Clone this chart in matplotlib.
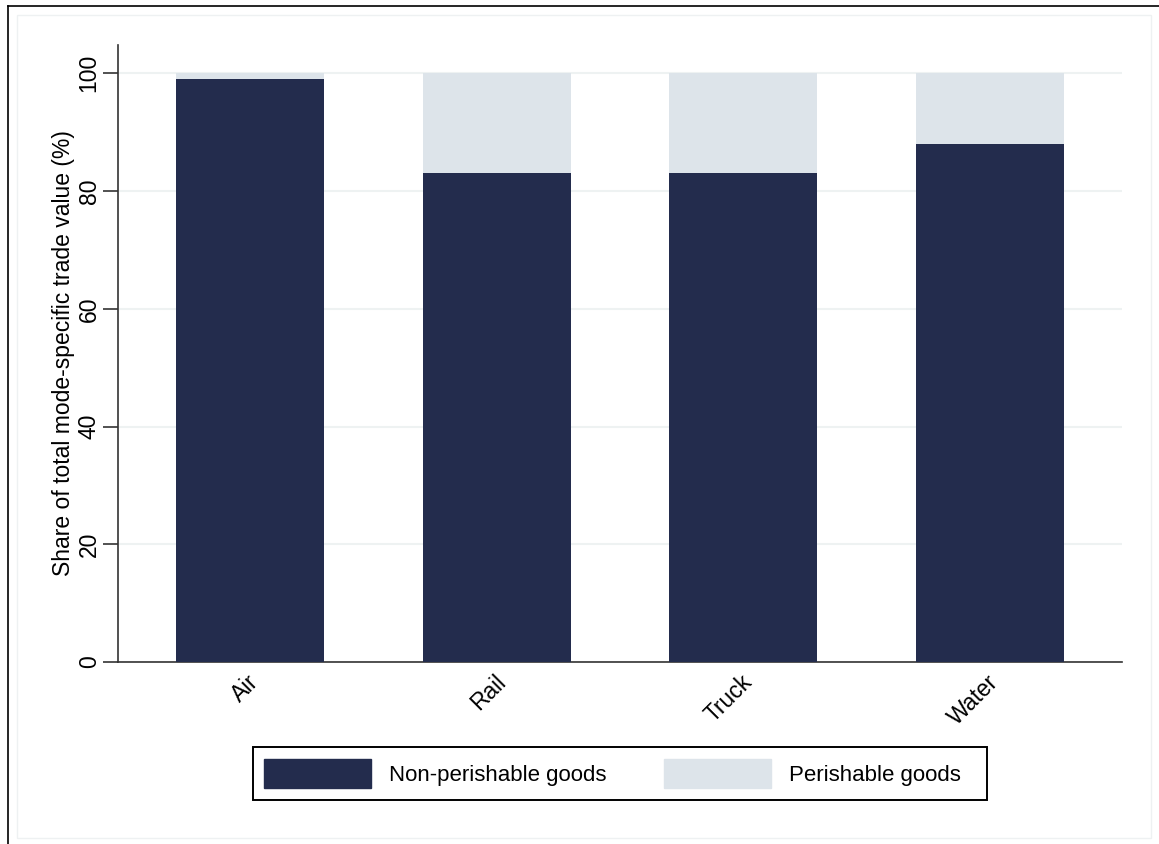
import matplotlib.pyplot as plt
import matplotlib.patches as mpatches
import matplotlib.transforms as mtransforms
import numpy as np

plt.rcParams['font.family'] = ['Liberation Sans', 'DejaVu Sans']

modes = ["Air", "Rail", "Truck", "Water"]
non_perishable = [99, 83, 83, 88]
perishable = [1, 17, 17, 12]
series_labels = ["Non-perishable goods", "Perishable goods"]

dark = "#232c4d"
light = "#dde4ea"

fig = plt.figure(figsize=(11.59, 8.44), dpi=100)
W, H = 1159, 844

# outer frames (stata-style graph region)
fig.add_artist(plt.Line2D([8 / W, 8 / W], [0, 1 - 6 / H], color="black", lw=1.2))
fig.add_artist(plt.Line2D([8 / W, 1], [1 - 6 / H, 1 - 6 / H], color="black", lw=1.2))
fig.add_artist(mpatches.Rectangle((17 / W, 1 - 838 / H), (1151 - 17) / W, (838 - 15) / H,
                                  fill=False, ec="#eef1f2", lw=1.0))

ax = fig.add_axes([118 / W, 1 - 662 / H, (1122 - 118) / W, (662 - 45) / H])

x = np.arange(len(modes))
ax.bar(x, non_perishable, width=0.6, color=dark, label=series_labels[0], zorder=3)
ax.bar(x, perishable, width=0.6, bottom=non_perishable, color=light,
       label=series_labels[1], zorder=3)

ax.set_xlim(-0.535, 3.535)
ax.set_ylim(0, 104.8)
ax.set_yticks([0, 20, 40, 60, 80, 100])
ax.set_yticklabels(["0", "20", "40", "60", "80", "100"], rotation=90, va="center")
ax.set_xticks(x)
ax.set_xticklabels(modes, rotation=45, ha="right", rotation_mode="anchor")
ax.tick_params(axis="x", length=0, pad=6, labelsize=16.5)
ax.tick_params(axis="y", length=11, width=1.2, color="#333333", labelsize=16.5, pad=1.5)

# nudge x labels a bit to the left
shift = mtransforms.ScaledTranslation(-3 / 100, 0, fig.dpi_scale_trans)
for lab in ax.get_xticklabels():
    lab.set_transform(lab.get_transform() + shift)

ax.grid(axis="y", color="#eef2f2", lw=1.5, zorder=0)
for s in ["top", "right"]:
    ax.spines[s].set_visible(False)
for s in ["left", "bottom"]:
    ax.spines[s].set_color("#333333")
    ax.spines[s].set_linewidth(1.2)

ax.set_ylabel("Share of total mode-specific trade value (%)", fontsize=16.5)
ax.yaxis.set_label_coords(75 / W, 1 - 353 / H, transform=fig.transFigure)

# legend with its own frame (stata puts more room on the right)
fig.add_artist(mpatches.Rectangle((253 / W, 1 - 800 / H), (987 - 253) / W, (800 - 747) / H,
                                  fill=False, ec="black", lw=1.4))
handles = [mpatches.Patch(color=dark), mpatches.Patch(color=light)]
leg = fig.legend(handles, series_labels, loc="center",
                 bbox_to_anchor=(612.5 / W, 1 - 773.5 / H), ncol=2, fontsize=16,
                 frameon=False, handlelength=4.8, handleheight=1.6, handletextpad=0.8,
                 columnspacing=2.6, borderpad=0.5, borderaxespad=0)

fig.savefig("out.png", dpi=100)
